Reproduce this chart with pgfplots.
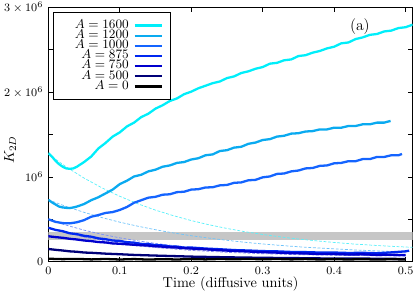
\documentclass[border=0pt]{standalone}
\usepackage{pgfplots}
\pgfplotsset{compat=1.18}
\definecolor{c1600}{RGB}{0,238,250}
\definecolor{c1200}{RGB}{10,170,240}
\definecolor{c1000}{RGB}{20,100,255}
\definecolor{c875}{RGB}{0,40,240}
\definecolor{c750}{RGB}{0,0,205}
\definecolor{c500}{RGB}{0,0,120}
\definecolor{f1600}{RGB}{90,240,250}
\definecolor{f1200}{RGB}{110,195,250}
\definecolor{f1000}{RGB}{120,145,250}
\definecolor{f875}{RGB}{130,130,240}
\definecolor{f750}{RGB}{140,140,220}
\begin{document}
\begin{tikzpicture}
\begin{axis}[
  scale only axis, width=254.8pt, height=177.9pt,
  xmin=0, xmax=0.51, ymin=0, ymax=3,
  xtick={0,0.1,0.2,0.3,0.4,0.5},
  xticklabels={$0$,$0.1$,$0.2$,$0.3$,$0.4$,$0.5$},
  ytick={0,0.5,1,1.5,2,2.5,3},
  yticklabels={$0$,,$10^6$,,$2\times10^6$,,$3\times10^6$},
  tick label style={font=\footnotesize},
  major tick length=3.5pt,
  tick style={black, line width=0.5pt},
  axis line style={line width=0.6pt},
  xlabel={Time (diffusive units)},
  xlabel style={at={(axis description cs:0.5,0)}, anchor=north, yshift=-10pt, inner sep=0pt},
  ylabel={$K_{2D}$},
  ylabel style={at={(axis description cs:-0.105,0.44)}, anchor=center, inner sep=0pt},
  legend style={at={(axis description cs:0,1)}, anchor=north west, xshift=3.5pt, yshift=-3.1pt,
    draw=black, line width=0.6pt, fill=white, inner xsep=4.9pt, inner ysep=5.8pt, font=\small,
    row sep=0pt, column sep=3.5pt, nodes={inner sep=0pt, text height=5.5pt, text depth=1.6pt}},
  legend cell align=right, legend plot pos=right,
  legend image code/.code={\draw[#1, overlay] (0pt,0pt) -- (19pt,0pt); \path (0pt,0pt) -- (19pt,0pt);},
]
% grey band
\addplot[fill=gray!45, draw=none, forget plot] coordinates {(0,0.25) (0.51,0.25) (0.51,0.35) (0,0.35)} -- cycle;
% fits
\addplot[f1600, line width=0.5pt, dash pattern=on 2pt off 1.2pt, forget plot] coordinates {
(0,1.27)(0.025,1.118)(0.05,0.986)(0.075,0.871)(0.1,0.771)(0.125,0.684)(0.15,0.608)(0.175,0.543)(0.2,0.485)(0.225,0.435)(0.25,0.392)(0.275,0.354)(0.3,0.321)(0.325,0.292)(0.35,0.267)(0.375,0.246)(0.4,0.227)(0.425,0.210)(0.45,0.196)(0.475,0.184)(0.5,0.173)(0.51,0.169)};
\addplot[f1200, line width=0.5pt, dash pattern=on 2pt off 1.2pt, forget plot] coordinates {
(0,0.73)(0.025,0.651)(0.05,0.582)(0.075,0.520)(0.1,0.466)(0.125,0.419)(0.15,0.377)(0.175,0.339)(0.2,0.306)(0.225,0.278)(0.25,0.252)(0.275,0.229)(0.3,0.209)(0.325,0.192)(0.35,0.176)(0.375,0.163)(0.4,0.151)(0.425,0.140)(0.45,0.131)(0.475,0.122)(0.5,0.115)};
\addplot[f1000, line width=0.5pt, dash pattern=on 2pt off 1.2pt, forget plot] coordinates {
(0,0.5)(0.025,0.431)(0.05,0.372)(0.075,0.323)(0.1,0.281)(0.125,0.246)(0.15,0.216)(0.175,0.190)(0.2,0.169)(0.225,0.150)(0.25,0.135)(0.275,0.122)(0.3,0.111)(0.35,0.094)(0.4,0.081)(0.45,0.072)(0.5,0.066)};
\addplot[f875, line width=0.5pt, dash pattern=on 2pt off 1.2pt, forget plot] coordinates {
(0,0.40)(0.025,0.341)(0.05,0.291)(0.075,0.251)(0.1,0.218)(0.125,0.190)(0.15,0.167)(0.2,0.133)(0.25,0.110)(0.3,0.094)(0.35,0.083)(0.4,0.076)(0.45,0.071)(0.5,0.067)};
\addplot[f750, line width=0.5pt, dash pattern=on 2pt off 1.2pt, forget plot] coordinates {
(0,0.30)(0.05,0.245)(0.1,0.202)(0.15,0.168)(0.2,0.142)(0.25,0.122)(0.3,0.106)(0.35,0.093)(0.4,0.084)(0.45,0.076)(0.5,0.071)};
% data
\addplot[c1600, line width=1.6pt] coordinates {
(0,1.28)(0.005,1.24)(0.01,1.19)(0.015,1.15)(0.02,1.12)(0.025,1.10)(0.03,1.095)(0.035,1.10)(0.04,1.12)(0.05,1.175)(0.06,1.24)(0.07,1.335)(0.08,1.40)(0.09,1.475)(0.10,1.525)(0.11,1.595)(0.12,1.64)(0.13,1.705)(0.14,1.745)(0.15,1.805)(0.16,1.845)(0.17,1.895)(0.18,1.925)(0.19,1.975)(0.20,2.005)(0.21,2.045)(0.22,2.075)(0.23,2.105)(0.24,2.125)(0.25,2.165)(0.26,2.185)(0.27,2.225)(0.28,2.245)(0.29,2.275)(0.30,2.295)(0.31,2.335)(0.32,2.345)(0.33,2.375)(0.34,2.385)(0.35,2.425)(0.36,2.435)(0.37,2.465)(0.38,2.485)(0.39,2.515)(0.40,2.535)(0.41,2.575)(0.42,2.585)(0.43,2.625)(0.44,2.645)(0.45,2.675)(0.46,2.685)(0.47,2.715)(0.48,2.725)(0.49,2.755)(0.50,2.765)(0.51,2.795)};
\addlegendentry{\hspace*{9.8pt}$A = 1600$}
\addplot[c1200, line width=1.6pt] coordinates {
(0,0.73)(0.005,0.70)(0.01,0.675)(0.015,0.65)(0.02,0.64)(0.025,0.635)(0.03,0.632)(0.035,0.64)(0.04,0.65)(0.05,0.68)(0.06,0.725)(0.07,0.76)(0.08,0.805)(0.09,0.85)(0.10,0.915)(0.11,0.955)(0.12,1.005)(0.13,1.025)(0.14,1.065)(0.15,1.085)(0.16,1.12)(0.17,1.135)(0.18,1.165)(0.19,1.175)(0.20,1.205)(0.21,1.22)(0.22,1.255)(0.23,1.265)(0.24,1.305)(0.25,1.315)(0.26,1.345)(0.27,1.355)(0.28,1.39)(0.29,1.405)(0.30,1.435)(0.31,1.445)(0.32,1.475)(0.33,1.485)(0.34,1.51)(0.35,1.515)(0.36,1.535)(0.37,1.54)(0.38,1.56)(0.39,1.56)(0.40,1.58)(0.41,1.58)(0.42,1.60)(0.43,1.60)(0.44,1.62)(0.45,1.62)(0.46,1.64)(0.47,1.64)(0.479,1.66)};
\addlegendentry{$A = 1200$}
\addplot[c1000, line width=1.6pt] coordinates {
(0,0.50)(0.005,0.485)(0.01,0.47)(0.02,0.455)(0.03,0.452)(0.04,0.465)(0.05,0.49)(0.06,0.53)(0.07,0.55)(0.08,0.575)(0.09,0.585)(0.10,0.61)(0.11,0.645)(0.12,0.695)(0.13,0.725)(0.14,0.755)(0.15,0.765)(0.16,0.79)(0.17,0.795)(0.18,0.82)(0.19,0.825)(0.20,0.85)(0.21,0.855)(0.22,0.875)(0.23,0.878)(0.24,0.90)(0.25,0.905)(0.26,0.93)(0.27,0.935)(0.28,0.96)(0.29,0.965)(0.30,0.995)(0.31,1.005)(0.32,1.035)(0.33,1.04)(0.34,1.065)(0.35,1.075)(0.36,1.10)(0.37,1.105)(0.38,1.13)(0.39,1.135)(0.40,1.16)(0.41,1.165)(0.42,1.185)(0.43,1.185)(0.44,1.21)(0.45,1.21)(0.46,1.235)(0.47,1.235)(0.48,1.255)(0.49,1.255)(0.495,1.27)};
\addlegendentry{$A = 1000$}
\addplot[c875, line width=1.6pt] coordinates {
(0,0.40)(0.01,0.375)(0.02,0.36)(0.03,0.335)(0.04,0.325)(0.05,0.305)(0.06,0.295)(0.07,0.275)(0.08,0.265)(0.09,0.25)(0.10,0.245)(0.11,0.23)(0.12,0.225)(0.13,0.21)(0.14,0.208)(0.15,0.195)(0.16,0.192)(0.17,0.18)(0.18,0.178)(0.19,0.165)(0.20,0.167)(0.22,0.155)(0.24,0.147)(0.26,0.137)(0.28,0.132)(0.30,0.125)(0.32,0.122)(0.34,0.115)(0.36,0.113)(0.38,0.108)(0.40,0.108)(0.42,0.103)(0.44,0.105)(0.46,0.10)(0.48,0.11)(0.50,0.122)(0.505,0.13)};
\addlegendentry{$A = 875$}
\addplot[c750, line width=1.6pt] coordinates {
(0,0.30)(0.01,0.29)(0.02,0.282)(0.03,0.27)(0.04,0.262)(0.05,0.25)(0.06,0.243)(0.07,0.232)(0.08,0.227)(0.09,0.215)(0.10,0.212)(0.12,0.20)(0.14,0.19)(0.16,0.177)(0.18,0.167)(0.20,0.155)(0.22,0.147)(0.24,0.135)(0.26,0.127)(0.28,0.12)(0.30,0.112)(0.32,0.107)(0.34,0.10)(0.36,0.097)(0.38,0.09)(0.40,0.09)(0.42,0.085)(0.44,0.087)(0.46,0.08)(0.48,0.082)(0.50,0.078)};
\addlegendentry{$A = 750$}
\addplot[c500, line width=1.6pt] coordinates {
(0,0.15)(0.01,0.14)(0.02,0.132)(0.03,0.122)(0.04,0.117)(0.05,0.108)(0.06,0.105)(0.08,0.095)(0.10,0.088)(0.12,0.08)(0.15,0.072)(0.18,0.065)(0.20,0.06)(0.25,0.052)(0.30,0.046)(0.35,0.042)(0.40,0.037)(0.45,0.036)(0.50,0.032)};
\addlegendentry{$A = 500$}
\addplot[black, line width=1.6pt] coordinates {
(0,0.035)(0.02,0.03)(0.04,0.033)(0.06,0.027)(0.08,0.032)(0.10,0.026)(0.12,0.031)(0.14,0.025)(0.16,0.03)(0.18,0.026)(0.2,0.031)(0.22,0.027)(0.24,0.032)(0.26,0.028)(0.28,0.033)(0.30,0.028)(0.32,0.032)(0.34,0.027)(0.36,0.031)(0.38,0.026)(0.40,0.03)(0.42,0.026)(0.44,0.03)(0.46,0.025)(0.48,0.029)(0.50,0.026)};
\addlegendentry{$A = 0$}
\node[font=\fontsize{11}{13}\selectfont] at (axis description cs:0.855,0.9225) {(a)};
\end{axis}
\pgfresetboundingbox
\path ([xshift=-33.8pt,yshift=-21.2pt]current axis.south west) rectangle ([xshift=1.6pt,yshift=5.1pt]current axis.north east);
\end{tikzpicture}
\end{document}
